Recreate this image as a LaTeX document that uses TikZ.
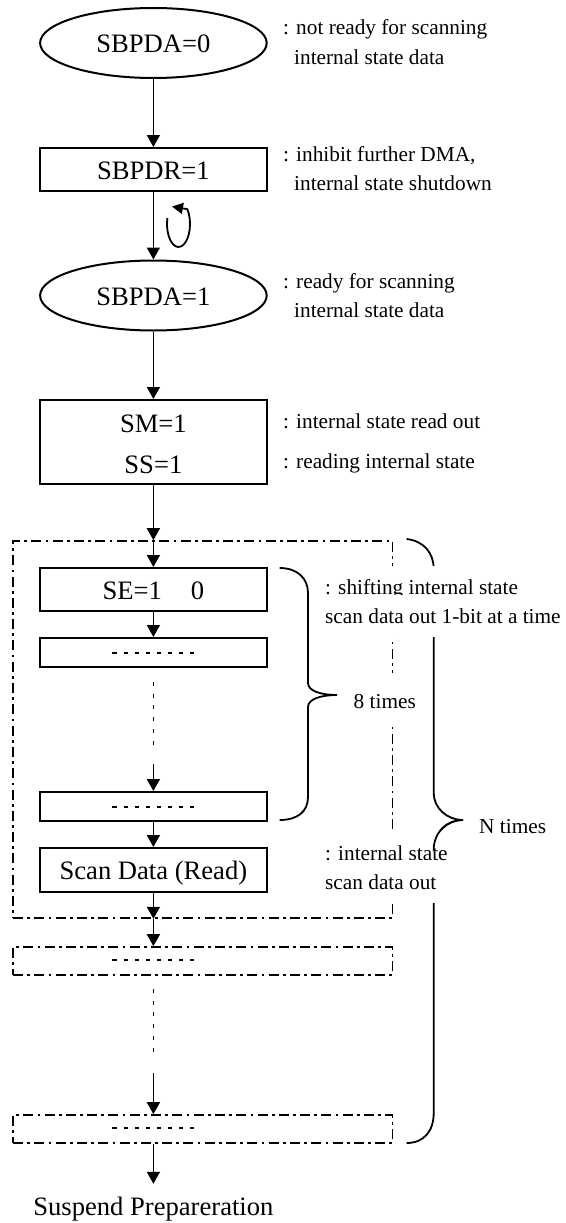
\documentclass[tikz,border=0pt]{standalone}
\usepackage{fontspec}
\setmainfont{Liberation Serif}
\usetikzlibrary{shapes.geometric,arrows.meta,calc}
\begin{document}
\begin{tikzpicture}[x=1pt,y=-1pt,
 boxS/.style={draw, line width=2pt, minimum width=226.6pt, inner sep=0pt, font=\fontsize{26.6}{30}\selectfont, text height=19pt, text depth=0pt},
 ellS/.style={boxS, ellipse, minimum height=70pt},
 dboxS/.style={draw, line width=1.6pt, dash pattern=on 10pt off 4.3pt on 2.7pt off 4.3pt, inner sep=0pt},
 lblS/.style={inner sep=0pt, font=\fontsize{26.6}{30}\selectfont, text height=19pt, text depth=0pt},
 noteS/.style={anchor=base west, inner sep=0pt, font=\fontsize{21.3}{29}\selectfont},
 coverS/.style={noteS, fill=white, inner xsep=1pt, inner ysep=13.5pt},
 arr/.style={line width=1.8pt, -{Triangle[length=12pt,width=13pt]}},
 braceS/.style={line width=1.8pt},
 dotsS/.style={line width=1.5pt, dash pattern=on 4.3pt off 6.8pt},
 vdotS/.style={line width=1.5pt, dash pattern=on 4pt off 7.7pt}
]
\useasboundingbox (0,0) rectangle (565,1223);

% main chain
\node[ellS] (a0) at (153.4,43) {SBPDA=0};
\node[boxS, minimum height=43pt] (r1) at (153.4,169.5) {SBPDR=1};
\node[ellS] (a1) at (153.4,295.5) {SBPDA=1};
\node[boxS, minimum height=84pt] (sm) at (153.4,442) {};
\node[lblS] (smA) at (153.4,422.5) {SM=1};
\node[lblS] (ssA) at (153.4,463.5) {SS=1};

% repeated block
\node[dboxS, minimum width=379.5pt, minimum height=377pt] (outer) at (202.8,729.5) {};
\node[boxS, minimum height=43pt] (se) at (153.4,589.5) {SE=1\hspace{29pt}0};
\node[boxS, minimum height=29pt] (d1) at (153.4,652.5) {};
\node[boxS, minimum height=29pt] (d2) at (153.4,806.5) {};
\node[boxS, minimum height=44pt] (scan) at (153.4,870) {Scan Data (Read)};
\node[dboxS, minimum width=379.5pt, minimum height=28pt] (rep1) at (202.8,961) {};
\node[dboxS, minimum width=379.5pt, minimum height=28pt] (rep2) at (202.8,1129) {};
\node[lblS, anchor=base] (susp) at (153.4,1215) {Suspend Prepareration};

% dots inside boxes
\draw[dotsS] ($(d1.center)+(-41,0.5)$) -- ($(d1.center)+(41,0.5)$);
\draw[dotsS] ($(d2.center)+(-41,0.5)$) -- ($(d2.center)+(41,0.5)$);
\draw[dotsS] ($(rep1.center -| se.center)+(-41,-1)$) -- ($(rep1.center -| se.center)+(41,-1)$);
\draw[dotsS] ($(rep2.center -| se.center)+(-41,-1)$) -- ($(rep2.center -| se.center)+(41,-1)$);

% coordinates
\coordinate (oin) at (outer.north -| sm.south);
\coordinate (oout) at (outer.south -| scan.south);
\coordinate (v1a) at (153.4,682);
\coordinate (v1b) at (153.4,750);
\coordinate (v1c) at (153.4,764);
\coordinate (v2a) at (153.4,989);
\coordinate (v2b) at (153.4,1058);
\coordinate (v2c) at (153.4,1073);

% connectors
\draw[arr] (a0) -- (r1);
\draw[arr] (r1) -- (a1);
\draw[arr] (a1) -- (sm);
\draw[arr] (sm.south) -- (oin);
\draw[arr] (oin) -- (se.north);
\draw[arr] (se) -- (d1);
\draw[vdotS] (v1a) -- (v1b);
\draw[arr] (v1c) -- (d2.north);
\draw[arr] (d2) -- (scan);
\draw[arr] (scan.south) -- (oout);
\draw[arr] (oout) -- (rep1.north -| oout);
\draw[vdotS] (v2a) -- (v2b);
\draw[arr] (v2c) -- (rep2.north -| v2c);
\draw[arr, shorten >=12pt] (rep2.south -| susp.north) -- (susp.north);

% loop arrow
\draw[line width=1.8pt, -{Triangle[length=11pt,width=11pt]}] (167.4,218) arc[start angle=195, end angle=-40, x radius=11.5, y radius=23] -- (172,206.5);

% braces
\draw[braceS] (279.7,568) .. controls (297,568) and (308,578) .. (308,593) -- (308,683)
  .. controls (308,691) and (321,695) .. (337,695)
  .. controls (321,695) and (308,699) .. (308,707) -- (308,797)
  .. controls (308,812) and (297,820) .. (279.7,820);
\draw[braceS] (406.6,539) .. controls (424,541) and (433.7,553) .. (433.7,569) -- (433.7,793)
  .. controls (433.7,808) and (447,820) .. (463,820)
  .. controls (447,820) and (433.7,832) .. (433.7,850) -- (433.7,1113)
  .. controls (433.7,1131) and (424,1143) .. (406.6,1143);

% annotations
\node[noteS] (n1a) at (283,35) {: not ready for scanning};
\node[noteS] (n1b) at (294,65) {internal state data};
\node[noteS] (n2a) at (283,161) {: inhibit further DMA,};
\node[noteS] (n2b) at (294,190) {internal state shutdown};
\node[noteS] (n3a) at (283,288) {: ready for scanning};
\node[noteS] (n3b) at (294,317) {internal state data};
\node[noteS] (n4a) at (283,428) {: internal state read out};
\node[noteS] (n4b) at (283,468) {: reading internal state};
\node[coverS] (n5a) at (324,594) {: shifting internal state};
\node[coverS] (n5b) at (324,623) {scan data out 1-bit at a time};
\node[coverS, text height=20pt, text depth=0pt, inner ysep=15pt] (n8) at (352.5,708) {8 times};
\node[noteS] (nN) at (479,833) {N times};
\node[coverS, inner ysep=14pt] (n6a) at (324,860) {: internal state};
\node[coverS, inner ysep=14pt] (n6b) at (324,889) {scan data out};

% brace tip crossing text
\draw[braceS] (463,820) .. controls (447,820) and (433.7,832) .. (433.7,850);
\end{tikzpicture}
\end{document}
